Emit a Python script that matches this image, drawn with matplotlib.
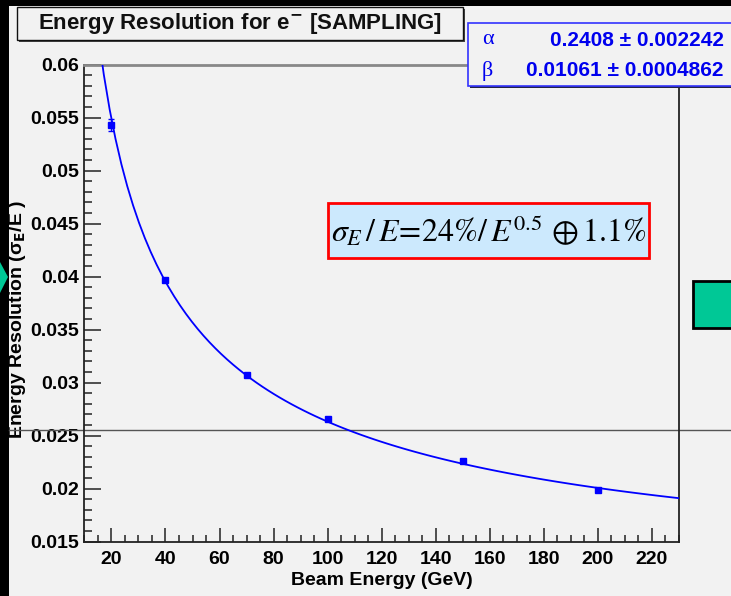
import numpy as np
import matplotlib.pyplot as plt
from matplotlib.patches import Rectangle, Polygon
from matplotlib.ticker import MultipleLocator

plt.rcParams['font.family'] = ['Liberation Sans', 'DejaVu Sans']

# Measured resolution points
energy = [20, 40, 70, 100, 150, 200]
resolution = [0.0543, 0.0397, 0.0307, 0.02655, 0.0226, 0.01987]
res_err = [0.00055, 0.0002, 0.0002, 0.0002, 0.00015, 0.00015]

# Fit parameters: sigma/E = alpha/sqrt(E) (+) beta
alpha, alpha_err = 0.2408, 0.002242
beta, beta_err = 0.01061, 0.0004862
fit_range = (15, 230)

xticks = [20, 40, 60, 80, 100, 120, 140, 160, 180, 200, 220]
yticks = [0.015, 0.02, 0.025, 0.03, 0.035, 0.04, 0.045, 0.05, 0.055, 0.06]
ytick_labels = ['0.015', '0.02', '0.025', '0.03', '0.035', '0.04', '0.045', '0.05', '0.055', '0.06']

W, H = 731, 596
bg = '#f2f2f2'
fig = plt.figure(figsize=(W / 100, H / 100), dpi=100, facecolor=bg)


def fx(px):
    return px / W


def fy(py):
    return 1 - py / H


ax = fig.add_axes([fx(84.4), fy(541.6), fx(679) - fx(84.4), fy(64.6) - fy(541.6)])
ax.set_facecolor(bg)
ax.set_zorder(2)

# fit curve
e = np.linspace(fit_range[0], fit_range[1], 100)
curve = np.sqrt((alpha / np.sqrt(e)) ** 2 + beta ** 2)
ax.plot(e, curve, color='#0000ff', lw=1.3, zorder=3)

ax.errorbar(energy, resolution, yerr=res_err, fmt='s', color='#0000ff', ms=4.5,
            elinewidth=1, capsize=2, capthick=1, zorder=4)

ax.set_xlim(10, 230)
ax.set_ylim(0.015, 0.06)
ax.set_xticks(xticks)
ax.set_xticklabels([str(t) for t in xticks])
ax.set_yticks(yticks)
ax.set_yticklabels(ytick_labels)
ax.xaxis.set_minor_locator(MultipleLocator(5))
ax.yaxis.set_minor_locator(MultipleLocator(0.001))

ax.tick_params(axis='both', which='both', direction='in', top=False, right=False,
               color='#333333', width=1.2)
ax.tick_params(axis='y', which='major', length=12, pad=4, labelsize=14)
ax.tick_params(axis='y', which='minor', length=6)
ax.tick_params(axis='x', which='major', length=10, pad=7, labelsize=14)
ax.tick_params(axis='x', which='minor', length=5)
for lab in ax.get_xticklabels() + ax.get_yticklabels():
    lab.set_fontweight('bold')

for side in ['left', 'bottom', 'right']:
    ax.spines[side].set_color('#222222')
    ax.spines[side].set_linewidth(1.3)
ax.spines['top'].set_color('#888888')
ax.spines['top'].set_linewidth(2)

ax.set_xlabel('Beam Energy (GeV)', fontsize=14, fontweight='bold', labelpad=3)
ax.set_ylabel(r'Energy Resolution (σ$_{\mathbf{E}}$/E )', fontsize=14, fontweight='bold',
              va='center')
ax.yaxis.set_label_coords(-0.112, 0.466)

# horizontal guide line across the slide
ax.axhline(0.02557, xmin=-0.127, xmax=1.1, color='#555555', lw=1, clip_on=False, zorder=2)

# slide frame: black strips at top and left
fig.patches.append(Rectangle((0, fy(6)), 1, 6 / H, transform=fig.transFigure,
                             facecolor='black', edgecolor='none', zorder=0))
fig.patches.append(Rectangle((0, 0), fx(9), 1, transform=fig.transFigure,
                             facecolor='black', edgecolor='none', zorder=0))
fig.patches.append(Polygon([(0, fy(262)), (fx(8), fy(277)), (0, fy(293))], closed=True,
                           transform=fig.transFigure, facecolor='#00c896',
                           edgecolor='none', zorder=1))
fig.patches.append(Rectangle((fx(693), fy(327.6)), fx(731) - fx(693) + 0.01,
                             (327.6 - 280.5) / H, transform=fig.transFigure,
                             facecolor='#00c896', edgecolor='black', lw=2, zorder=1))

# title box
fig.patches.append(Rectangle((fx(19), fy(42)), fx(446), 33 / H, transform=fig.transFigure,
                             facecolor='#444444', edgecolor='none', zorder=5))
fig.patches.append(Rectangle((fx(17), fy(40)), fx(446), 33 / H, transform=fig.transFigure,
                             facecolor=bg, edgecolor='#111111', lw=1, zorder=6))
fig.text(fx(240), fy(23.5), r'Energy Resolution for e$^{\mathbf{-}}$ [SAMPLING]',
         ha='center', va='center', fontsize=16, fontweight='bold', color='#111111', zorder=7)

# fit parameter box
fig.patches.append(Rectangle((fx(470), fy(88)), 0.4, 62.5 / H, transform=fig.transFigure,
                             facecolor='#222244', edgecolor='none', zorder=5))
fig.patches.append(Rectangle((fx(468.5), fy(86)), 0.4, 62.5 / H, transform=fig.transFigure,
                             facecolor=bg, edgecolor='#3333ff', lw=1.2, zorder=6))
blue = '#0000ee'
fig.text(fx(482), fy(40), 'α', ha='left', va='center', fontsize=16,
         family='Liberation Serif', color=blue, zorder=7)
fig.text(fx(482), fy(71), 'β', ha='left', va='center', fontsize=16,
         family='Liberation Serif', color=blue, zorder=7)
fig.text(fx(724), fy(40), f'{alpha:.4f} ± {alpha_err:.6f}', ha='right', va='center',
         fontsize=15, fontweight='bold', color=blue, zorder=7)
fig.text(fx(724), fy(71), f'{beta:.5f} ± {beta_err:.7f}', ha='right', va='center',
         fontsize=15, fontweight='bold', color=blue, zorder=7)

# resolution formula box
fig.patches.append(Rectangle((fx(328), fy(258)), fx(321), 55 / H, transform=fig.transFigure,
                             facecolor='#cce9fd', edgecolor='#ff0000', lw=2, zorder=6))
fig.text(fx(489), fy(231), r'$\sigma_E\,/\,E\!=\!24\%/\,E^{0.5}\,\oplus1.1\%$',
         ha='center', va='center', fontsize=23, math_fontfamily='stix',
         color='black', zorder=7)

fig.savefig('out.png', dpi=100, facecolor=bg)
